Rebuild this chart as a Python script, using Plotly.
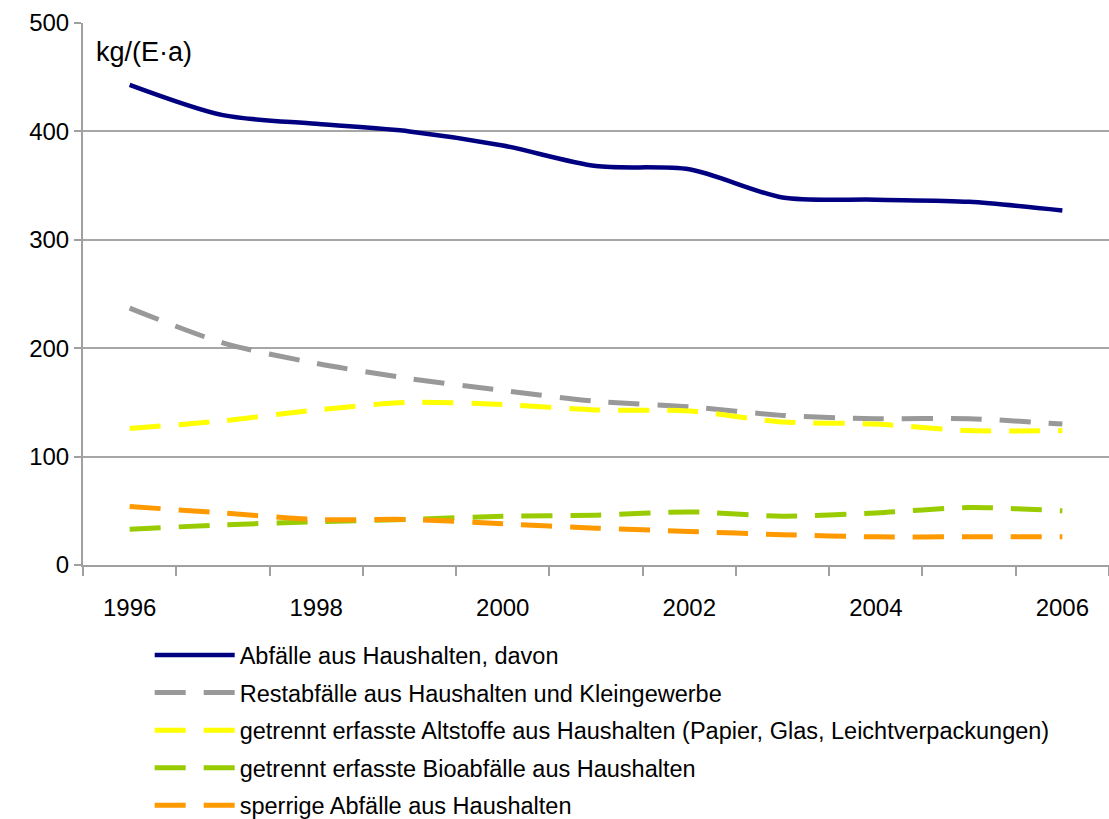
import plotly.graph_objects as go

years = list(range(1996, 2007))
tick_years = [1996, 1998, 2000, 2002, 2004, 2006]
y_ticks = [0, 100, 200, 300, 400, 500]

haushalte_gesamt = [443, 415, 407, 400, 387, 368, 365, 339, 337, 335, 327]
restabfaelle = [237, 205, 186, 172, 161, 151, 146, 138, 135, 135, 130]
altstoffe = [126, 133, 143, 150, 148, 143, 142, 132, 130, 124, 124]
bioabfaelle = [33, 37, 40, 42, 45, 46, 49, 45, 48, 53, 50]
sperrige = [54, 48, 42, 42, 38, 34, 31, 28, 26, 26, 26]

series = [
    ("Abfälle aus Haushalten, davon", haushalte_gesamt, "#000080", "solid", 4.5),
    ("Restabfälle aus Haushalten und Kleingewerbe", restabfaelle, "#999999", "31px,18px", 5),
    ("getrennt erfasste Altstoffe aus Haushalten (Papier, Glas, Leichtverpackungen)",
     altstoffe, "#FFFF00", "31px,18px", 5),
    ("getrennt erfasste Bioabfälle aus Haushalten", bioabfaelle, "#99CC00", "31px,18px", 5),
    ("sperrige Abfälle aus Haushalten", sperrige, "#FF9900", "31px,18px", 5),
]

FONT = "Liberation Sans, Arial, sans-serif"

fig = go.Figure()
for i, (name, vals, color, dash, width) in enumerate(series):
    fig.add_trace(go.Scatter(
        x=years, y=vals, name=name, mode="lines",
        legendgroup=f"g{i}",
        line=dict(color=color, width=width, dash=dash, shape="spline", smoothing=0.8),
    ))

fig.update_layout(
    width=1109, height=819,
    margin=dict(l=83, r=0, t=23, b=254, autoexpand=False),
    paper_bgcolor="white", plot_bgcolor="white",
    font=dict(family=FONT, color="black", size=24),
    showlegend=True,
    legend=dict(
        x=0.065, xanchor="left", y=-0.126, yanchor="top",
        font=dict(size=23.5, family=FONT),
        itemwidth=80, tracegroupgap=4,
        bgcolor="rgba(0,0,0,0)",
    ),
    annotations=[dict(
        text="kg/(E·a)", xref="paper", yref="paper", x=0.011, y=0.947,
        xanchor="left", yanchor="middle", showarrow=False,
        font=dict(size=27, family=FONT),
    )],
)

fig.update_xaxes(
    range=[1995.5, 2006.5],
    tickvals=tick_years, ticktext=[str(t) for t in tick_years],
    ticks="", showgrid=False, zeroline=False,
    showline=True, linecolor="#a0a0a0", linewidth=2,
    minor=dict(tick0=1995.5, dtick=1, ticks="outside", ticklen=9,
               tickcolor="#a0a0a0", tickwidth=2, showgrid=False),
    ticklabelstandoff=20,
    tickfont=dict(size=24),
)
fig.update_yaxes(
    range=[0, 500], tickvals=y_ticks,
    ticks="outside", ticklen=7, tickcolor="#a0a0a0", tickwidth=2,
    showgrid=True, gridcolor="#a6a6a6", gridwidth=1.5,
    zeroline=False, showline=True, linecolor="#a0a0a0", linewidth=2,
    ticklabelstandoff=0,
    tickfont=dict(size=24),
)

fig.write_html("out.html")
